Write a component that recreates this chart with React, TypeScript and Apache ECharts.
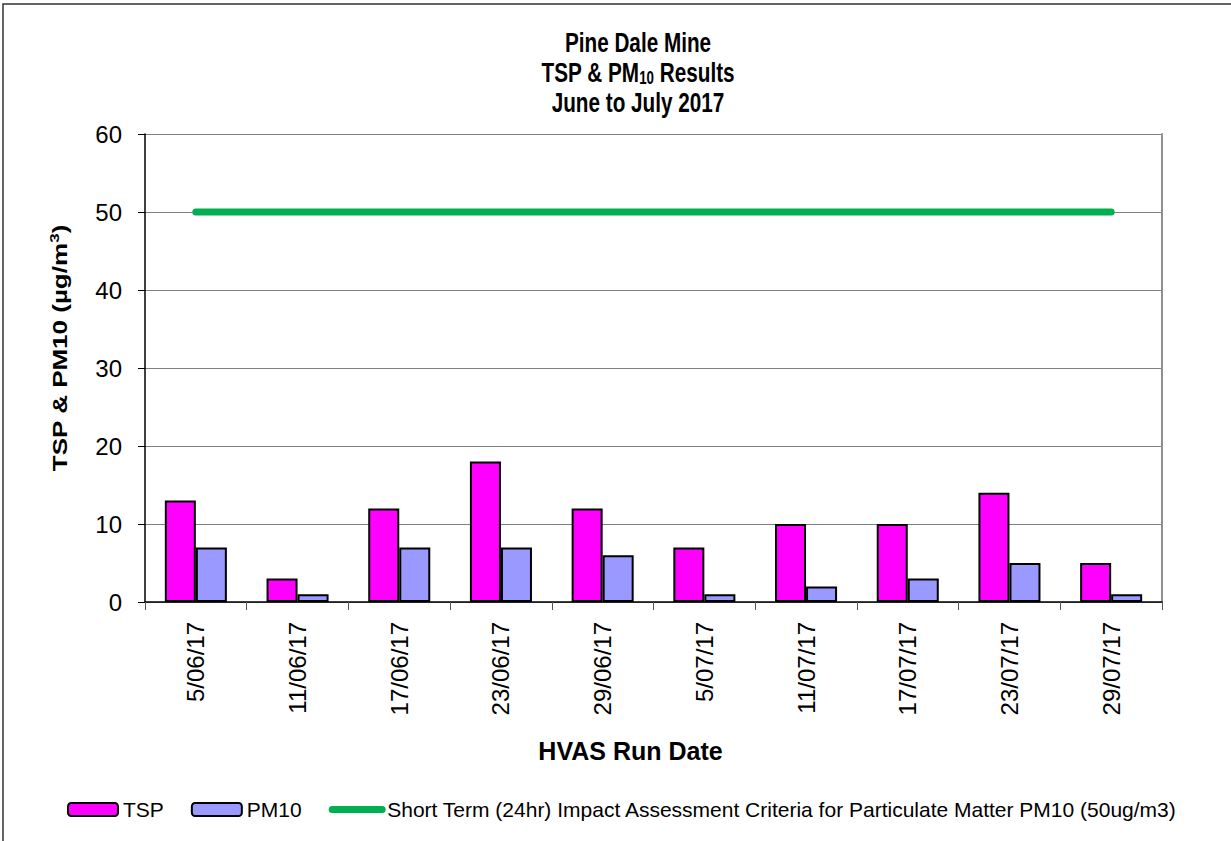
import React, { useEffect, useRef } from "react";
import * as echarts from "echarts";

const categories = ["5/06/17", "11/06/17", "17/06/17", "23/06/17", "29/06/17", "5/07/17", "11/07/17", "17/07/17", "23/07/17", "29/07/17"];
const tspValues = [13, 3, 12, 18, 12, 7, 10, 10, 14, 5];
const pm10Values = [7, 1, 7, 7, 6, 1, 2, 3, 5, 1];
const criteriaValues = [50, 50, 50, 50, 50, 50, 50, 50, 50, 50];
const yTicks = { min: 0, max: 60, interval: 10 };
const seriesNames = ["TSP", "PM10", "Short Term (24hr) Impact Assessment Criteria for Particulate Matter PM10 (50ug/m3)"];

const FONT = "Arial, 'Liberation Sans', sans-serif";

export default function App() {
  const ref = useRef<HTMLDivElement>(null);
  useEffect(() => {
    if (!ref.current) return;
    const chart = echarts.init(ref.current, null, { renderer: "svg" });
    chart.setOption({
      animation: false,
      backgroundColor: "#ffffff",
      textStyle: { fontFamily: FONT },
      graphic: [
        {
          type: "rect",
          silent: true,
          shape: { x: 3, y: 4, width: 1260, height: 900 },
          style: { fill: "none", stroke: "#333", lineWidth: 1.5 },
        },
        {
          type: "text",
          x: 638,
          y: 27,
          scaleX: 0.74,
          style: {
            text: "{b|Pine Dale Mine}\n{b|TSP & PM}{s|10}{b| Results}\n{b|June to July 2017}",
            align: "center",
            verticalAlign: "top",
            rich: {
              b: { fontFamily: FONT, fontSize: 28, fontWeight: "bold", fill: "#000", lineHeight: 30, align: "center" },
              s: { fontFamily: FONT, fontSize: 18, fontWeight: "bold", fill: "#000", lineHeight: 30, verticalAlign: "bottom" },
            },
          },
        },
        {
          type: "text",
          x: 60,
          y: 348,
          rotation: Math.PI / 2,
          scaleY: 0.8,
          style: {
            text: "{b|TSP & PM10 (µg/m}{p|3}{b|)}",
            align: "center",
            verticalAlign: "middle",
            rich: {
              b: { fontFamily: FONT, fontSize: 26, fontWeight: "bold", fill: "#000", lineHeight: 32 },
              p: { fontFamily: FONT, fontSize: 17, fontWeight: "bold", fill: "#000", lineHeight: 32, verticalAlign: "top" },
            },
          },
        },
      ],
      legend: {
        left: 67,
        top: 799,
        padding: 0,
        itemWidth: 50,
        itemHeight: 13,
        itemGap: 27,
        textStyle: { fontFamily: FONT, fontSize: 21, color: "#000" },
        lineStyle: { width: 7, cap: "round" },
        data: [
          { name: seriesNames[0] },
          { name: seriesNames[1] },
          { name: seriesNames[2], itemStyle: { opacity: 0 } },
        ],
      },
      grid: { left: 145, right: 69, top: 134, bottom: 239, containLabel: false },
      xAxis: {
        type: "category",
        data: categories,
        boundaryGap: true,
        name: "HVAS Run Date",
        nameLocation: "middle",
        nameGap: 136,
        nameTextStyle: { fontFamily: FONT, fontSize: 25, fontWeight: "bold", color: "#000", verticalAlign: "top", padding: [0, 46, 0, 0] },
        axisLine: { show: true, lineStyle: { color: "#000", width: 1.5 } },
        axisTick: { show: true, alignWithLabel: false, length: 8, lineStyle: { color: "#555" } },
        axisLabel: { rotate: 90, margin: 20, fontFamily: FONT, fontSize: 24, color: "#000", interval: 0 },
        splitLine: { show: false },
      },
      yAxis: [
        {
          type: "value",
          min: yTicks.min,
          max: yTicks.max,
          interval: yTicks.interval,
          axisLine: { show: true, lineStyle: { color: "#000", width: 1.5 } },
          axisTick: { show: true, length: 7, lineStyle: { color: "#000" } },
          axisLabel: { margin: 23, fontFamily: FONT, fontSize: 24, color: "#000" },
          splitLine: { show: true, lineStyle: { color: "#808080", width: 1 } },
        },
        {
          type: "value",
          position: "right",
          min: yTicks.min,
          max: yTicks.max,
          interval: yTicks.interval,
          axisLine: { show: true, lineStyle: { color: "#909090", width: 2 } },
          axisTick: { show: false },
          axisLabel: { show: false },
          splitLine: { show: false },
        },
      ],
      series: [
        {
          name: seriesNames[0],
          type: "bar",
          data: tspValues,
          barGap: "0%",
          barCategoryGap: "39%",
          itemStyle: { color: "#FF00FF", borderColor: "#000", borderWidth: 2 },
        },
        {
          name: seriesNames[1],
          type: "bar",
          data: pm10Values,
          barGap: "0%",
          barCategoryGap: "39%",
          itemStyle: { color: "#9999FF", borderColor: "#000", borderWidth: 2 },
        },
        {
          name: seriesNames[2],
          type: "line",
          data: criteriaValues,
          symbol: "none",
          lineStyle: { color: "#00B050", width: 7, cap: "round" },
          itemStyle: { color: "#00B050" },
        },
      ],
    });
    return () => chart.dispose();
  }, []);
  return <div ref={ref} style={{ position: "fixed", left: 0, top: 0, width: 1231, height: 841 }} />;
}
